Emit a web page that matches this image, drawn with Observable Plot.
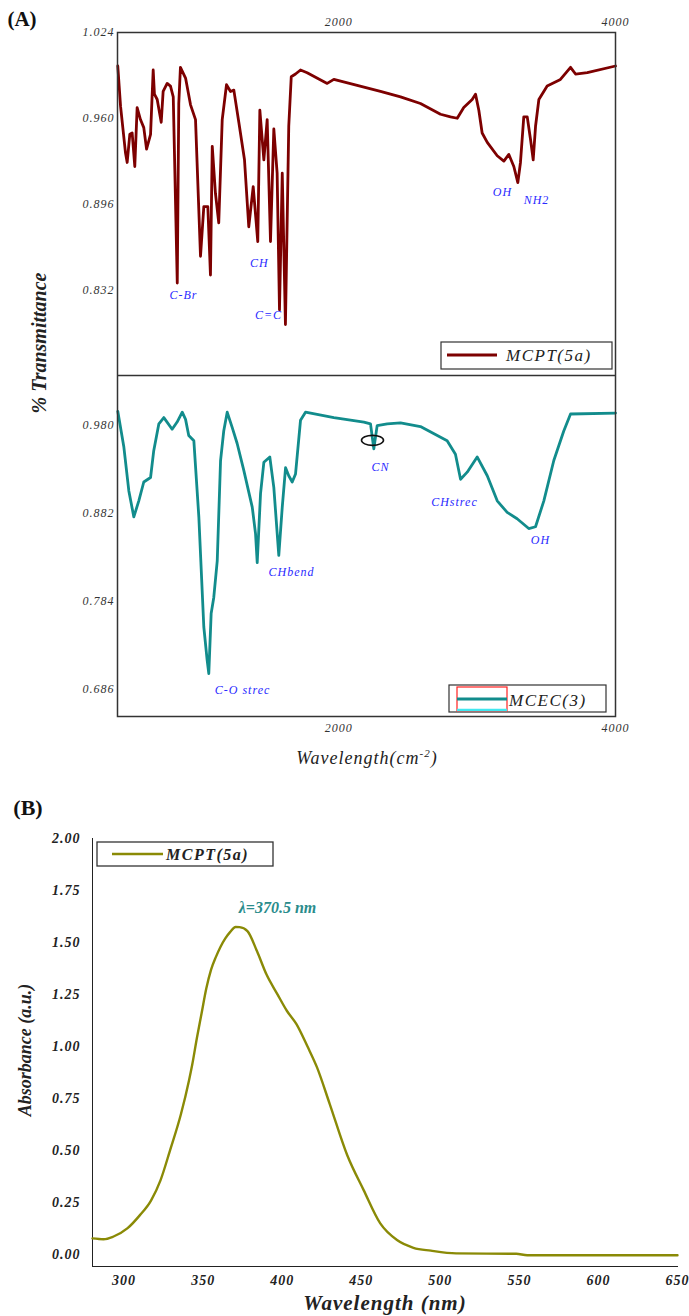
<!DOCTYPE html>
<html><head><meta charset="utf-8">
<script src="https://cdn.jsdelivr.net/npm/d3@7"></script>
<script src="https://cdn.jsdelivr.net/npm/@observablehq/plot@0.6"></script>
<style>
body{margin:0;background:#fff;}
#root{position:relative;width:689px;height:1316px;overflow:hidden;font-family:"Liberation Serif",serif;background:#fff;}
.abs{position:absolute;white-space:nowrap;transform:translate(-50%,-50%);}
.ftir text{letter-spacing:1px;}
</style></head><body><div id="root"></div>
<script>
// ---------- (A) FTIR data ----------
const irWnUpper = [402,422,458,470,489,506,525,542,566,590,
  610,639,658,667,687,716,730,759,783,803,
  832,843,855,892,928,964,1000,1024,1053,1072,
  1085,1108,1132,1157,1188,1217,1241,1277,1318,1349,
  1381,1414,1429,1458,1482,1506,1530,1554,1571,1591,
  1614,1638,1656,1687,1723,1771,1916,1964,2301,2446,
  2590,2735,2807,2856,2903,2964,2988,3012,3036,3073,
  3145,3193,3229,3265,3294,3313,3337,3362,3386,3405,
  3422,3446,3506,3602,3675,3711,3796,4000];
const irTUpper = [0.999,0.969,0.934,0.927,0.948,0.949,0.924,0.968,0.959,0.953,
  0.937,0.948,0.996,0.978,0.974,0.957,0.980,0.986,0.984,0.976,
  0.837,0.971,0.998,0.990,0.970,0.959,0.857,0.894,0.894,0.843,
  0.939,0.904,0.882,0.959,0.985,0.980,0.981,0.957,0.929,0.879,
  0.909,0.868,0.966,0.929,0.959,0.868,0.952,0.919,0.817,0.919,
  0.806,0.954,0.991,0.993,0.996,0.994,0.986,0.989,0.980,0.976,
  0.971,0.963,0.961,0.960,0.968,0.974,0.978,0.966,0.949,0.942,
  0.932,0.928,0.933,0.924,0.912,0.927,0.961,0.961,0.944,0.929,
  0.954,0.974,0.984,0.989,0.998,0.993,0.994,0.999];
const irWnLower = [402,446,482,518,554,590,639,662,699,735,
  795,831,868,892,915,952,988,1024,1048,1060,
  1077,1096,1121,1145,1168,1193,1229,1265,1313,1374,
  1398,1410,1434,1458,1501,1530,1566,1591,1615,1638,
  1663,1687,1723,1759,1964,2181,2229,2253,2277,2350,
  2446,2590,2783,2843,2880,2928,3000,3073,3145,3217,
  3289,3373,3422,3482,3554,3626,3675,4000];
const irTLower = [0.996,0.956,0.907,0.878,0.896,0.917,0.922,0.952,0.982,0.989,
  0.976,0.984,0.995,0.987,0.969,0.963,0.878,0.755,0.718,0.703,
  0.770,0.788,0.829,0.941,0.974,0.995,0.978,0.960,0.930,0.889,
  0.859,0.827,0.904,0.939,0.945,0.911,0.835,0.889,0.933,0.924,
  0.917,0.926,0.986,0.995,0.989,0.984,0.982,0.954,0.980,0.982,
  0.983,0.979,0.963,0.948,0.920,0.928,0.945,0.924,0.896,0.883,
  0.876,0.865,0.867,0.896,0.941,0.974,0.993,0.994];
const irXTicks = [2000, 4000];
const irYTicksUpper = [1.024, 0.960, 0.896, 0.832];
const irYTicksLower = [0.980, 0.882, 0.784, 0.686];
const irLabelsUpper = ["C-Br","CH","C=C","OH","NH2"];
const irLabelWnUpper = [877,1426,1492,3183,3429];
const irLabelTUpper = [0.828,0.852,0.813,0.905,0.899];
const irLabelsLower = ["CN","CHbend","C-O strec","CHstrec","OH"];
const irLabelWnLower = [2301,1658,1304,2836,3458];
const irLabelTLower = [0.934,0.816,0.684,0.895,0.852];
const irCnMarker = [2247, 0.963];
const irSeries = ["MCPT(5a)", "MCEC(3)"];

// ---------- (B) UV-Vis data ----------
const uvWl = [280,287,293,302,310,317,323,329,336,341,
  343,346,349,352,355,358,361,364,367,370.5,
  373,378,384,390,397,403,409,416,422,430,
  441,451.5,462,472.6,483,494,510,548,555,650];
const uvAbs = [0.078,0.074,0.086,0.126,0.19,0.26,0.357,0.50,0.677,0.836,
  0.91,1.04,1.16,1.28,1.37,1.43,1.48,1.52,1.55,1.575,
  1.574,1.555,1.459,1.347,1.251,1.171,1.108,1.0,0.90,0.725,
  0.48,0.31,0.15,0.07,0.033,0.019,0.006,0.004,-0.003,-0.003];
const uvXTicks = [300,350,400,450,500,550,600,650];
const uvYTicks = [0,0.25,0.5,0.75,1.0,1.25,1.5,1.75,2.0];
const uvPeakLabel = ["λ=370.5 nm"];
const uvPeakPos = [397, 1.668];
const uvSeries = ["MCPT(5a)"];

const upperData = irWnUpper.map((w,i)=>({wn:w, t:irTUpper[i]}));
const lowerData = irWnLower.map((w,i)=>({wn:w, t:irTLower[i]}));
const upperLabels = irLabelsUpper.map((l,i)=>({label:l, wn:irLabelWnUpper[i], t:irLabelTUpper[i]}));
const lowerLabels = irLabelsLower.map((l,i)=>({label:l, wn:irLabelWnLower[i], t:irLabelTLower[i]}));
const uvData = uvWl.map((w,i)=>({wl:w, a:uvAbs[i]}));

const root = document.getElementById("root");
function place(svg, top){
  svg.style.position="absolute"; svg.style.top=top+"px"; svg.style.left="0px";
  svg.style.background="transparent"; svg.style.maxWidth="none";
  root.appendChild(svg);
}
const SERIF = '"Liberation Serif", "Times New Roman", serif';
const MAROON = "#7d0000", TEAL = "#128c8c", OLIVE = "#8a8a06", BLUE = "#2a2aff";
const intFmt = d3.format("d");

const upper = Plot.plot({
  width: 689, height: 375, marginTop: 32, marginBottom: 0, marginLeft: 117, marginRight: 74,
  style: {fontFamily: SERIF, fontStyle: "italic", fontSize: "12px", color: "#333", background: "transparent"},
  x: {domain: [400, 4000], axis: "top", ticks: irXTicks, tickFormat: intFmt, tickSize: 0, tickPadding: 7, label: null},
  y: {domain: [0.768, 1.024], ticks: irYTicksUpper, tickFormat: d3.format(".3f"), tickSize: 0, tickPadding: 3, label: null},
  marks: [
    Plot.line(upperData, {x:"wn", y:"t", stroke: MAROON, strokeWidth: 2.8}),
    Plot.text(upperLabels, {x:"wn", y:"t", text:"label", fill: BLUE, fontSize: 12, fontStyle:"italic"}),
    Plot.frame({stroke:"#333", strokeWidth:1.5})
  ]
});
upper.classList.add("ftir");
place(upper, 0);
{
  const g = d3.select(upper).append("g").attr("text-anchor","start");
  g.append("rect").attr("x",441).attr("y",342).attr("width",171).attr("height",27).attr("fill","#fff").attr("stroke","#333").attr("stroke-width",1.2);
  g.append("line").attr("x1",447).attr("x2",497).attr("y1",355).attr("y2",355).attr("stroke",MAROON).attr("stroke-width",3);
  g.append("text").attr("x",506).attr("y",361).attr("text-anchor","start").text(irSeries[0]).attr("font-family",SERIF).attr("font-style","italic").attr("font-size",17).attr("fill","#222").style("letter-spacing","1.5px");
}

const lower = Plot.plot({
  width: 689, height: 401, marginTop: 0, marginBottom: 60, marginLeft: 117, marginRight: 74,
  style: {fontFamily: SERIF, fontStyle: "italic", fontSize: "12px", color: "#333", background: "transparent"},
  x: {domain: [400, 4000], axis: "bottom", ticks: irXTicks, tickFormat: intFmt, tickSize: 0, tickPadding: 7, label: null},
  y: {domain: [0.655, 1.036], ticks: irYTicksLower, tickFormat: d3.format(".3f"), tickSize: 0, tickPadding: 3, label: null},
  marks: [
    Plot.line(lowerData, {x:"wn", y:"t", stroke: TEAL, strokeWidth: 2.8}),
    Plot.text(lowerLabels, {x:"wn", y:"t", text:"label", fill: BLUE, fontSize: 12, fontStyle:"italic"}),
    Plot.frame({stroke:"#333", strokeWidth:1.5})
  ]
});
lower.classList.add("ftir");
place(lower, 375);
{
  const xs = lower.scale("x"), ys = lower.scale("y");
  const g = d3.select(lower).append("g").attr("text-anchor","start");
  g.append("ellipse").attr("cx", xs.apply(irCnMarker[0])).attr("cy", ys.apply(irCnMarker[1])).attr("rx",11).attr("ry",5)
    .attr("fill","none").attr("stroke","#111").attr("stroke-width",1.6);
  g.append("rect").attr("x",449).attr("y",310).attr("width",157).attr("height",27).attr("fill","#fff").attr("stroke","#333").attr("stroke-width",1.2);
  g.append("rect").attr("x",457).attr("y",312).attr("width",50).attr("height",24).attr("fill","none").attr("stroke","#ff2020").attr("stroke-width",1.2);
  g.append("line").attr("x1",457).attr("x2",507).attr("y1",335).attr("y2",335).attr("stroke","#40e8f0").attr("stroke-width",2.5);
  g.append("line").attr("x1",457).attr("x2",507).attr("y1",324).attr("y2",324).attr("stroke",TEAL).attr("stroke-width",3);
  g.append("text").attr("x",509).attr("y",331).attr("text-anchor","start").text(irSeries[1]).attr("font-family",SERIF).attr("font-style","italic").attr("font-size",17).attr("fill","#222").style("letter-spacing","1.5px");
}

const uv = Plot.plot({
  width: 689, height: 526, marginTop: 48, marginBottom: 50, marginLeft: 92, marginRight: 12,
  style: {fontFamily: SERIF, fontStyle: "italic", fontWeight: "bold", fontSize: "14px", color: "#222", background: "transparent"},
  x: {domain: [280, 650], ticks: uvXTicks, tickFormat: intFmt, tickSize: 0, tickPadding: 9, line: true, label: null},
  y: {domain: [-0.057, 2.0], ticks: uvYTicks, tickFormat: d3.format(".2f"), tickSize: 0, tickPadding: 12, line: true, label: null},
  marks: [
    Plot.line(uvData, {x:"wl", y:"a", stroke: OLIVE, strokeWidth: 2.4, curve: "monotone-x"}),
    Plot.text(uvPeakLabel, {x: () => uvPeakPos[0], y: () => uvPeakPos[1], text: d => d, fill: "#2a8c8c", fontSize: 16, fontWeight: "bold", fontStyle: "italic"})
  ]
});
uv.classList.add("uv");
place(uv, 790);
{
  const g = d3.select(uv).append("g").attr("text-anchor","start");
  g.append("rect").attr("x",97).attr("y",52).attr("width",176).attr("height",24).attr("fill","#fff").attr("stroke","#333").attr("stroke-width",1.3);
  g.append("line").attr("x1",112).attr("x2",163).attr("y1",64).attr("y2",64).attr("stroke",OLIVE).attr("stroke-width",2.5);
  g.append("text").attr("x",166).attr("y",70).attr("text-anchor","start").text(uvSeries[0]).attr("font-family",SERIF).attr("font-style","italic").attr("font-weight","bold").attr("font-size",16).attr("fill","#222").style("letter-spacing","1.5px");
}
d3.select(uv).selectAll("g[aria-label$='tick label'] text, g[aria-label$='axis'] text").style("letter-spacing","1px");

// ---------- titles ----------
function addText(html, x, y, css){
  const d = document.createElement("div");
  d.className = "abs"; d.innerHTML = html;
  d.style.left = x+"px"; d.style.top = y+"px";
  Object.assign(d.style, css);
  root.appendChild(d);
}
addText("(A)", 22, 19, {fontWeight:"bold", fontSize:"21px", color:"#111"});
addText("(B)", 28, 808, {fontWeight:"bold", fontSize:"22px", color:"#111"});
addText("% Transmittance", 39, 343, {fontWeight:"bold", fontStyle:"italic", fontSize:"20px", color:"#222", transform:"translate(-50%,-50%) rotate(-90deg)"});
addText("Wavelength(cm<sup style='font-size:11px'>-2</sup>)", 367, 758, {fontStyle:"italic", fontSize:"18px", color:"#222", letterSpacing:"1px"});
addText("Absorbance (a.u.)", 25, 1050, {fontWeight:"bold", fontStyle:"italic", fontSize:"18px", color:"#222", transform:"translate(-50%,-50%) rotate(-90deg)"});
addText("Wavelength (nm)", 385, 1303, {fontWeight:"bold", fontStyle:"italic", fontSize:"21px", color:"#222", letterSpacing:"1px"});
</script></body></html>
